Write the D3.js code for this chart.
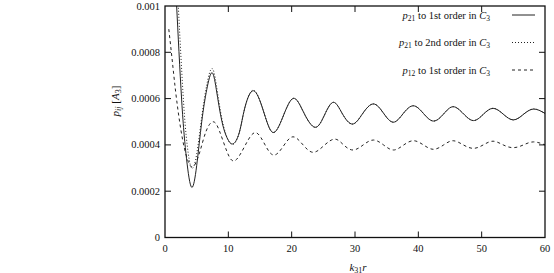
<!DOCTYPE html>
<html>
<head>
<meta charset="utf-8">
<script src="https://cdn.jsdelivr.net/npm/d3@7"></script>
<style>
  body { margin: 0; background: #fff; }
  svg text { font-family: 'Liberation Serif', 'DejaVu Serif', serif; fill: #111; }
</style>
</head>
<body>
<div id="graf"></div>
<script>
// I. Datos
xTicks = [0, 10, 20, 30, 40, 50, 60]
yTicks = [0, 0.0002, 0.0004, 0.0006, 0.0008, 0.001]
yTickLabels = ['0', '0.0002', '0.0004', '0.0006', '0.0008', '0.001']

// p21 a 1er orden en C3 (k31 r, valor)
p21primero = [
  [1.5, 0.00118], [1.84, 0.001], [2.63, 0.000594], [3.4, 0.00034], [4.2, 0.000217],
  [5.0, 0.00031], [5.8, 0.0005], [6.6, 0.00064], [7.4, 0.000712], [8.1, 0.00064],
  [9.0, 0.0005], [10.0, 0.00042], [10.9, 0.000407], [11.8, 0.00046], [12.6, 0.00056],
  [13.95, 0.000634], [15.5, 0.00055], [17.0, 0.000454], [18.6, 0.00052], [20.26, 0.000601],
  [21.9, 0.00054], [23.7, 0.000476], [25.2, 0.00053], [26.6, 0.000584], [28.0, 0.000535],
  [29.6, 0.00049], [31.2, 0.000535], [32.9, 0.000577], [34.5, 0.000537], [36.05, 0.000498],
  [37.6, 0.000535], [39.2, 0.000569], [40.8, 0.000536], [42.4, 0.000503], [44.0, 0.000534],
  [45.5, 0.000565], [47.1, 0.000535], [48.7, 0.000505], [50.25, 0.000532], [51.8, 0.000558],
  [53.4, 0.000533], [55.0, 0.000508], [56.6, 0.000532], [58.2, 0.000555], [60, 0.000536]
]

// p21 a 2do orden en C3
p21segundo = [
  [1.8, 0.00116], [2.1, 0.001], [2.85, 0.00062], [3.5, 0.0004], [4.2, 0.0003],
  [5.0, 0.00036], [5.8, 0.00052], [6.6, 0.00066], [7.4, 0.00073], [8.1, 0.00066],
  [9.0, 0.00051], [10.0, 0.00042], [10.9, 0.000405], [11.8, 0.00046], [12.6, 0.00056],
  [13.95, 0.000636], [15.5, 0.00055], [17.0, 0.000454], [18.6, 0.00052], [20.26, 0.000601],
  [21.9, 0.00054], [23.7, 0.000476], [25.2, 0.00053], [26.6, 0.000584], [28.0, 0.000535],
  [29.6, 0.00049], [31.2, 0.000535], [32.9, 0.000577], [34.5, 0.000537], [36.05, 0.000498],
  [37.6, 0.000535], [39.2, 0.000569], [40.8, 0.000536], [42.4, 0.000503], [44.0, 0.000534],
  [45.5, 0.000565], [47.1, 0.000535], [48.7, 0.000505], [50.25, 0.000532], [51.8, 0.000558],
  [53.4, 0.000533], [55.0, 0.000508], [56.6, 0.000532], [58.2, 0.000555], [60, 0.000536]
]

// p12 a 1er orden en C3
p12primero = [
  [0.6, 0.0009], [1.2, 0.00075], [1.84, 0.000594], [2.8, 0.00042], [3.8, 0.00032],
  [4.6, 0.00031], [5.5, 0.00037], [6.5, 0.00046], [7.6, 0.0005], [8.6, 0.00046],
  [9.8, 0.00037], [11.05, 0.000332], [12.7, 0.0004], [14.3, 0.000453], [15.8, 0.0004],
  [17.2, 0.000356], [18.7, 0.000395], [20.2, 0.000435], [21.8, 0.0004], [23.4, 0.000368],
  [25.1, 0.000397], [26.8, 0.000425], [28.2, 0.0004], [29.7, 0.000378], [31.3, 0.0004],
  [32.9, 0.000421], [34.5, 0.0004], [36.05, 0.000378], [37.6, 0.000398], [39.2, 0.000418],
  [40.8, 0.0004], [42.4, 0.000381], [44.0, 0.0004], [45.5, 0.000418], [47.1, 0.0004],
  [48.7, 0.000385], [50.25, 0.0004], [51.8, 0.000416], [53.4, 0.0004], [55.0, 0.000388],
  [56.6, 0.0004], [58.2, 0.000413], [60, 0.0004]
]

series = [
  { nombre: '21', orden: '1st', datos: p21primero, dash: null },
  { nombre: '21', orden: '2nd', datos: p21segundo, dash: '1,2' },
  { nombre: '12', orden: '1st', datos: p12primero, dash: '3,3' }
]

// II. Configuración
ancho_total = 554
alto_total = 273
margins = { top: 6, left: 165, right: 9, bottom: 35.5 }
ancho = ancho_total - margins.left - margins.right
alto = alto_total - margins.top - margins.bottom

svg = d3.select('#graf').append('svg')
        .attr('width', ancho_total)
        .attr('height', alto_total)

g = svg.append('g')
       .attr('transform', `translate(${ margins.left }, ${ margins.top })`)

x = d3.scaleLinear().domain([0, 60]).range([0, ancho])
y = d3.scaleLinear().domain([0, 0.001]).range([alto, 0])

svg.append('defs').append('clipPath')
   .attr('id', 'recorte')
   .append('rect')
     .attr('width', ancho)
     .attr('height', alto)

// III. Curvas
linea = d3.line()
          .x(d => x(d[0]))
          .y(d => y(d[1]))
          .curve(d3.curveNatural)

g.append('g')
 .attr('clip-path', 'url(#recorte)')
 .selectAll('path')
 .data(series)
 .enter()
 .append('path')
   .attr('d', d => linea(d.datos))
   .attr('fill', 'none')
   .attr('stroke', '#222')
   .attr('stroke-width', 1)
   .attr('stroke-dasharray', d => d.dash)

// IV. Ejes (marcas hacia adentro, reflejadas)
tick = 6
ejes = g.append('g').attr('stroke', '#111').attr('stroke-width', 1)

xTicks.forEach(t => {
  if (t == 0 || t == 60) return
  ejes.append('line').attr('x1', x(t)).attr('x2', x(t)).attr('y1', alto).attr('y2', alto - tick)
  ejes.append('line').attr('x1', x(t)).attr('x2', x(t)).attr('y1', 0).attr('y2', tick)
})
yTicks.forEach(t => {
  if (t == 0 || t == 0.001) return
  ejes.append('line').attr('x1', 0).attr('x2', tick).attr('y1', y(t)).attr('y2', y(t))
  ejes.append('line').attr('x1', ancho).attr('x2', ancho - tick).attr('y1', y(t)).attr('y2', y(t))
})

g.append('rect')
 .attr('width', ancho)
 .attr('height', alto)
 .attr('fill', 'none')
 .attr('stroke', '#111')
 .attr('stroke-width', 1.3)

g.selectAll('.xlab')
 .data(xTicks)
 .enter()
 .append('text')
   .attr('x', d => x(d))
   .attr('y', alto + 14)
   .attr('text-anchor', 'middle')
   .attr('font-size', '10.5px')
   .text(d => d)

g.selectAll('.ylab')
 .data(yTicks)
 .enter()
 .append('text')
   .attr('x', -5)
   .attr('y', d => y(d) + 3.5)
   .attr('text-anchor', 'end')
   .attr('font-size', '10.5px')
   .text((d, i) => yTickLabels[i])

// Títulos de ejes
tx = g.append('text')
      .attr('x', 193)
      .attr('y', alto + 33)
      .attr('text-anchor', 'middle')
      .attr('font-size', '11px')
tx.append('tspan').attr('font-style', 'italic').text('k')
tx.append('tspan').attr('font-size', '8px').attr('dy', 2).text('31')
tx.append('tspan').attr('font-style', 'italic').attr('dy', -2).text('r')

ty = g.append('text')
      .attr('transform', `translate(-46, 95) rotate(-90)`)
      .attr('text-anchor', 'middle')
      .attr('font-size', '11px')
ty.append('tspan').attr('font-style', 'italic').text('p')
ty.append('tspan').attr('font-style', 'italic').attr('font-size', '8px').attr('dy', 2).text('ij')
ty.append('tspan').attr('dy', -2).text(' [')
ty.append('tspan').attr('font-style', 'italic').text('A')
ty.append('tspan').attr('font-size', '8px').attr('dy', 2).text('3')
ty.append('tspan').attr('dy', -2).text(']')

// V. Leyenda
leyenda = g.selectAll('.leyenda')
           .data(series)
           .enter()
           .append('g')
             .attr('transform', (d, i) => `translate(0, ${ 9 + i * 27.5 })`)

etiqueta = leyenda.append('text')
                  .attr('x', 325)
                  .attr('y', 3.5)
                  .attr('text-anchor', 'end')
                  .attr('font-size', '10.5px')
etiqueta.append('tspan').attr('font-style', 'italic').text('p')
etiqueta.append('tspan').attr('font-size', '7.5px').attr('dy', 2).text(d => d.nombre)
etiqueta.append('tspan').attr('dy', -2).text(d => ` to ${ d.orden } order in `)
etiqueta.append('tspan').attr('font-style', 'italic').text('C')
etiqueta.append('tspan').attr('font-size', '7.5px').attr('dy', 2).text('3')

leyenda.append('line')
       .attr('x1', 347)
       .attr('x2', 370)
       .attr('y1', 0)
       .attr('y2', 0)
       .attr('stroke', '#222')
       .attr('stroke-width', 1)
       .attr('stroke-dasharray', d => d.dash)
</script>
</body>
</html>
